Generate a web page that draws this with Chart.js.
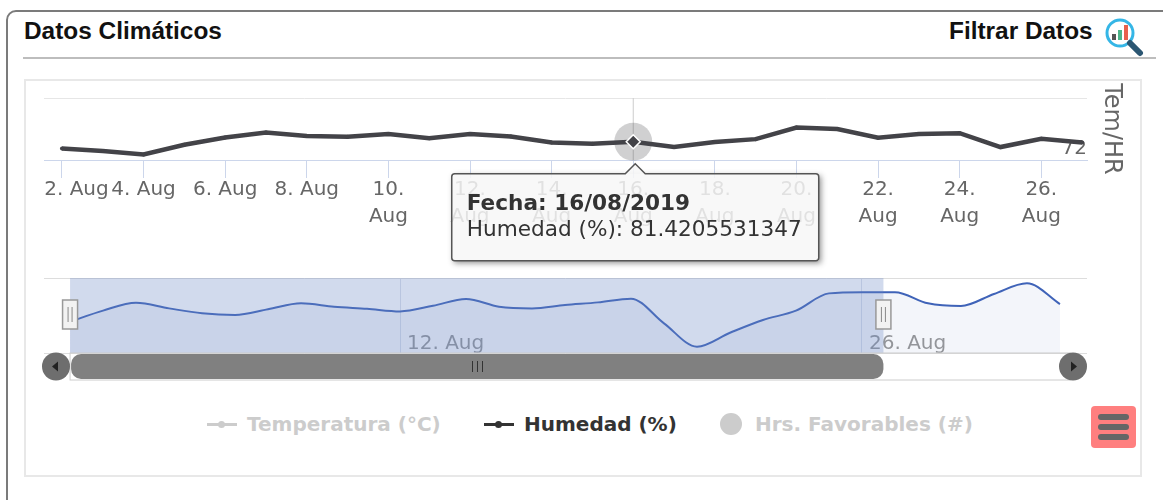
<!DOCTYPE html>
<html lang="es">
<head>
<meta charset="utf-8">
<title>Datos Climáticos</title>
<script src="https://cdn.jsdelivr.net/npm/chart.js@4/dist/chart.umd.min.js"></script>
<style>
    html, body { margin: 0; padding: 0; background: #fff; }
    body { position: relative; width: 1163px; height: 500px; overflow: hidden; font-family: "DejaVu Sans", sans-serif; }
    .panel { position: absolute; left: 6px; top: 10px; width: 1170px; height: 510px; border: 2px solid #7b7b7b; border-radius: 10px; box-sizing: border-box; }
    .heading { position: absolute; top: 17px; font: bold 24.4px "Liberation Sans", sans-serif; color: #111; line-height: 28px; white-space: nowrap; }
    .rule { position: absolute; left: 23px; top: 57px; width: 1133px; height: 2px; background: #bdbdbd; }
    .box { position: absolute; left: 24px; top: 79px; width: 1118px; height: 398px; border: 2px solid #e8e8e8; box-sizing: border-box; }
    canvas { position: absolute; left: 0; }
    .legend-item { position: absolute; top: 409px; font: bold 20px "DejaVu Sans", sans-serif; line-height: 30px; white-space: nowrap; }
    .menu { position: absolute; left: 1091px; top: 406px; width: 45px; height: 42px; background: #ff7f7f; border-radius: 4px; }
    .menu i { position: absolute; left: 7px; width: 31px; height: 6px; border-radius: 3px; background: #666; }
</style>
</head>
<body>
<div class="panel"></div>
<div class="heading" style="left:24px">Datos Climáticos</div>
<div class="heading" style="left:949px">Filtrar Datos</div>
<svg style="position:absolute;left:1102px;top:18px" width="42" height="40" viewBox="0 0 42 40">
    <circle cx="18" cy="15" r="13" fill="#fff" stroke="#35b6e6" stroke-width="3"/>
    <rect x="10" y="16" width="4" height="6" fill="#555"/>
    <rect x="16" y="12" width="4" height="10" fill="#4cb58a"/>
    <rect x="22" y="7" width="4" height="15" fill="#e8604c"/>
    <path d="M28 25 L38 35" stroke="#2b5672" stroke-width="6" stroke-linecap="round"/>
</svg>
<div class="rule"></div>
<div class="box"></div>
<canvas id="mainChart" width="1163" height="270" style="top:0"></canvas>
<canvas id="navChart" width="1163" height="120" style="top:270px"></canvas>
<div id="legend"></div>
<div class="menu"><i style="top:8px"></i><i style="top:18px"></i><i style="top:28px"></i></div>

<script>
// main chart, daily values of August 2019
const dias = [2, 3, 4, 5, 6, 7, 8, 9, 10, 11, 12, 13, 14, 15, 16, 17, 18, 19, 20, 21, 22, 23, 24, 25, 26, 27];
const humedad = [78, 76.6, 74.9, 79.9, 83.6, 86.2, 84.4, 84, 85.4, 83.3, 85.5, 84.2, 81.1, 80.4, 81.4205531347, 78.7, 81.3, 82.8, 88.8, 88, 83.5, 85.5, 85.9, 78.7, 83, 81.1];
const tickDias = [2, 4, 6, 8, 10, 12, 14, 16, 18, 20, 22, 24, 26];
const tickLabels = ['2. Aug', '4. Aug', '6. Aug', '8. Aug', ['10.', 'Aug'], ['12.', 'Aug'], ['14.', 'Aug'], ['16.', 'Aug'], ['18.', 'Aug'], ['20.', 'Aug'], ['22.', 'Aug'], ['24.', 'Aug'], ['26.', 'Aug']];
const yTicks = [72, 104.1];
const yLabels = ['72', ''];
const hoverIndex = 14;

// navigator, whole period (2 Aug - 1 Sep)
const navDias = [2, 3, 4, 5, 6, 7, 8, 9, 10, 11, 12, 13, 14, 15, 16, 17, 18, 19, 20, 21, 22, 23, 24, 25, 26, 27, 28, 29, 30, 31, 32];
const navValores = [76.7, 82.6, 86.8, 83.8, 81.2, 80.3, 83.3, 86.5, 84.7, 83.6, 82.2, 85.2, 88.8, 84.7, 83.8, 85.6, 87, 89, 75.8, 63.4, 70.8, 77.6, 82.6, 91.8, 92.4, 92.4, 86.5, 85.1, 91.5, 97.2, 86.1];
const navTicks = [12, 26];
const navLabels = ['12. Aug', '26. Aug'];
const navDesde = 2;
const navHasta = 26.65;

const seriesNames = ['Temperatura (°C)', 'Humedad (%)', 'Hrs. Favorables (#)'];

const tickFont = { family: '"DejaVu Sans"', size: 20, lineHeight: 1.35 };

// tooltip box sits a little right of the point, like the original
Chart.Tooltip.positioners.punto = items => ({ x: items[0].element.x + 2, y: items[0].element.y });

// crosshair and halo behind the hovered point, tooltip shadow, first label shift
const mainDecor = {
    id: 'mainDecor',
    beforeDraw(chart) {
        const x = chart.scales.x;
        const items = x.getLabelItems(chart.chartArea);
        if (items.length) {
            items[0].options.translation[0] = x.getPixelForValue(tickDias[0]) + 14.5;
        }
    },
    beforeDatasetsDraw(chart) {
        const { ctx, chartArea } = chart;
        const px = chart.scales.x.getPixelForValue(dias[hoverIndex]);
        const py = chart.scales.y.getPixelForValue(humedad[hoverIndex]);
        ctx.save();
        ctx.strokeStyle = '#cccccc';
        ctx.lineWidth = 1;
        ctx.beginPath();
        ctx.moveTo(px, chartArea.top);
        ctx.lineTo(px, chartArea.bottom);
        ctx.stroke();
        ctx.fillStyle = 'rgba(67,67,72,0.25)';
        ctx.beginPath();
        ctx.arc(px, py, 19, 0, Math.PI * 2);
        ctx.fill();
        ctx.restore();
    },
    beforeTooltipDraw(chart, args) {
        const t = args.tooltip;
        const ctx = chart.ctx;
        ctx.save();
        ctx.beginPath();
        ctx.rect(0, 0, chart.width, chart.height);
        ctx.rect(t.x, t.y, t.width, t.height);
        ctx.clip('evenodd');
        ctx.shadowColor = 'rgba(0,0,0,0.45)';
        ctx.shadowBlur = 6;
        ctx.shadowOffsetX = 2;
        ctx.shadowOffsetY = 2;
        ctx.fillStyle = '#fff';
        ctx.fillRect(t.x, t.y, t.width, t.height);
        ctx.restore();
    }
};

const mainChart = new Chart(document.getElementById('mainChart'), {
    type: 'line',
    data: {
        datasets: [{
            label: seriesNames[1],
            data: dias.map((d, i) => ({ x: d, y: humedad[i] })),
            borderColor: '#434348',
            borderWidth: 4.5,
            tension: 0,
            pointBackgroundColor: '#434348',
            pointBorderColor: ctx => ctx.dataIndex === hoverIndex ? '#ffffff' : '#434348',
            pointBorderWidth: ctx => ctx.dataIndex === hoverIndex ? 1.5 : 0,
            pointRadius: ctx => ctx.dataIndex === hoverIndex ? 7 : 2,
            pointStyle: ctx => ctx.dataIndex === hoverIndex ? 'rectRot' : 'circle'
        }]
    },
    options: {
        responsive: false,
        animation: false,
        events: [],
        layout: { padding: { left: 44, top: 98, right: 37, bottom: 0 } },
        scales: {
            x: {
                type: 'linear',
                min: 1.56,
                max: 27.12,
                afterBuildTicks: s => { s.ticks = tickDias.map(v => ({ value: v })); },
                afterFit: s => { s.height = 110; },
                grid: { drawOnChartArea: false, color: '#ccd6eb', tickLength: 18, lineWidth: 1 },
                border: { color: '#ccd6eb', width: 1 },
                ticks: {
                    autoSkip: false,
                    maxRotation: 0,
                    padding: -2,
                    color: '#666666',
                    font: tickFont,
                    callback: (v, i) => tickLabels[i]
                }
            },
            y: {
                position: 'right',
                min: yTicks[0],
                max: yTicks[1],
                afterBuildTicks: s => { s.ticks = yTicks.map(v => ({ value: v })); },
                afterFit: s => { s.width = 39; },
                grid: { drawTicks: false, color: '#e6e6e6', lineWidth: 1 },
                border: { display: false },
                title: { display: true, text: 'Tem/HR', color: '#666666', font: { family: '"DejaVu Sans"', size: 24 }, padding: 0 },
                ticks: {
                    mirror: true,
                    padding: 0,
                    labelOffset: -11,
                    color: '#666666',
                    font: { family: '"DejaVu Sans"', size: 20 },
                    callback: (v, i) => yLabels[i]
                }
            }
        },
        plugins: {
            legend: { display: false },
            tooltip: {
                enabled: true,
                position: 'punto',
                yAlign: 'top',
                backgroundColor: 'rgba(247,247,247,0.85)',
                borderColor: '#555555',
                borderWidth: 1.5,
                cornerRadius: 3,
                caretSize: 10,
                caretPadding: 22,
                displayColors: false,
                padding: { left: 15, right: 17, top: 18, bottom: 17 },
                titleColor: '#333333',
                bodyColor: '#333333',
                titleFont: { family: '"DejaVu Sans"', size: 21.6, weight: 'bold', lineHeight: 1.2 },
                bodyFont: { family: '"DejaVu Sans"', size: 21.6, lineHeight: 1.2 },
                titleMarginBottom: 0,
                callbacks: {
                    title: items => 'Fecha: ' + String(items[0].parsed.x).padStart(2, '0') + '/08/2019',
                    label: item => item.dataset.label + ': ' + item.parsed.y
                }
            }
        }
    },
    plugins: [mainDecor]
});
mainChart.tooltip.setActiveElements([{ datasetIndex: 0, index: hoverIndex }], { x: 0, y: 0 });
mainChart.update();

// selection mask, handles and scrollbar of the navigator
const navDecor = {
    id: 'navDecor',
    afterDatasetsDraw(chart) {
        const { ctx, chartArea } = chart;
        const x1 = chart.scales.x.getPixelForValue(navDesde);
        const x2 = chart.scales.x.getPixelForValue(navHasta);
        ctx.save();
        ctx.fillStyle = 'rgba(102,133,194,0.3)';
        ctx.fillRect(x1, chartArea.top, x2 - x1, chartArea.height);

        // handles
        [x1, x2].forEach(hx => {
            ctx.fillStyle = '#f2f2f2';
            ctx.strokeStyle = '#999999';
            ctx.lineWidth = 1.5;
            ctx.fillRect(hx - 7.5, 30, 15, 29);
            ctx.strokeRect(hx - 7.5, 30, 15, 29);
            ctx.strokeStyle = '#888888';
            ctx.lineWidth = 1;
            ctx.beginPath();
            ctx.moveTo(hx - 2, 37); ctx.lineTo(hx - 2, 52);
            ctx.moveTo(hx + 2, 37); ctx.lineTo(hx + 2, 52);
            ctx.stroke();
        });

        // scrollbar
        const barTop = chartArea.bottom + 1;
        const barH = 25;
        const barEnd = chart.scales.x.getPixelForValue(navDias[navDias.length - 1]);
        ctx.strokeStyle = '#cccccc';
        ctx.lineWidth = 1;
        ctx.strokeRect(x1, barTop - 1, barEnd - x1 + 10, barH + 2);
        ctx.fillStyle = '#808080';
        ctx.beginPath();
        ctx.roundRect(x1 + 1, barTop, x2 - x1 - 1, barH, 10);
        ctx.fill();
        [[56, -1], [1073, 1]].forEach(([cx, dir]) => {
            ctx.fillStyle = '#6e6e6e';
            ctx.beginPath();
            ctx.arc(cx, barTop + barH / 2, 14, 0, Math.PI * 2);
            ctx.fill();
            ctx.fillStyle = '#222222';
            ctx.beginPath();
            ctx.moveTo(cx + dir * 4, barTop + barH / 2);
            ctx.lineTo(cx - dir * 2, barTop + barH / 2 - 5);
            ctx.lineTo(cx - dir * 2, barTop + barH / 2 + 5);
            ctx.fill();
        });
        ctx.strokeStyle = '#333333';
        ctx.beginPath();
        [-5, 0, 5].forEach(dx => {
            const gx = Math.round((x1 + x2) / 2) + dx + 0.5;
            ctx.moveTo(gx, barTop + 7);
            ctx.lineTo(gx, barTop + barH - 7);
        });
        ctx.stroke();
        ctx.restore();
    }
};

const navChart = new Chart(document.getElementById('navChart'), {
    type: 'line',
    data: {
        datasets: [{
            data: navDias.map((d, i) => ({ x: d, y: navValores[i] })),
            borderColor: '#3f63b8',
            borderWidth: 2,
            cubicInterpolationMode: 'monotone',
            pointRadius: 0,
            fill: 'origin',
            backgroundColor: 'rgba(51,92,173,0.06)'
        }]
    },
    options: {
        responsive: false,
        animation: false,
        events: [],
        layout: { padding: { left: 44, top: 8, right: 76, bottom: 0 } },
        scales: {
            x: {
                type: 'linear',
                min: 1.21,
                max: 32.82,
                afterBuildTicks: s => { s.ticks = navTicks.map(v => ({ value: v })); },
                afterFit: s => { s.height = 37; },
                grid: { color: 'rgba(140,155,190,0.3)', drawTicks: false },
                border: { display: false },
                ticks: {
                    autoSkip: false,
                    maxRotation: 0,
                    // mirror keeps the labels from being clipped at the axis, they sit inside the plot
                    mirror: true,
                    align: 'start',
                    padding: -3,
                    labelOffset: 7,
                    color: '#999999',
                    font: { family: '"DejaVu Sans"', size: 20 },
                    callback: (v, i) => navLabels[i]
                }
            },
            y: {
                min: 60,
                max: 100,
                afterBuildTicks: s => { s.ticks = [{ value: 60 }, { value: 100 }]; },
                afterFit: s => { s.width = 0; },
                grid: { color: '#dddddd', drawTicks: false },
                border: { display: false },
                ticks: { display: false }
            }
        },
        plugins: { legend: { display: false }, tooltip: { enabled: false } }
    },
    plugins: [navDecor]
});

// legend, only Humedad is switched on
const legendBox = document.getElementById('legend');
const legendStyle = [
    { color: '#cccccc', type: 'line', left: 207 },
    { color: '#333333', type: 'line', left: 484 },
    { color: '#cccccc', type: 'dot', left: 720 }
];
seriesNames.forEach((name, i) => {
    const item = legendStyle[i];
    const mark = document.createElement('div');
    mark.style.position = 'absolute';
    if (item.type === 'line') {
        mark.style.cssText += `left:${item.left}px;top:423px;width:30px;height:3px;background:${item.color}`;
        const dot = document.createElement('div');
        dot.style.cssText = `position:absolute;left:11px;top:-2px;width:7px;height:7px;border-radius:50%;background:${item.color}`;
        mark.appendChild(dot);
    } else {
        mark.style.cssText += `left:${item.left}px;top:413px;width:22px;height:22px;border-radius:50%;background:${item.color}`;
    }
    legendBox.appendChild(mark);
    const label = document.createElement('div');
    label.className = 'legend-item';
    label.style.left = (item.left + (item.type === 'line' ? 40 : 35)) + 'px';
    label.style.color = item.color;
    label.textContent = name;
    legendBox.appendChild(label);
});
</script>
</body>
</html>
